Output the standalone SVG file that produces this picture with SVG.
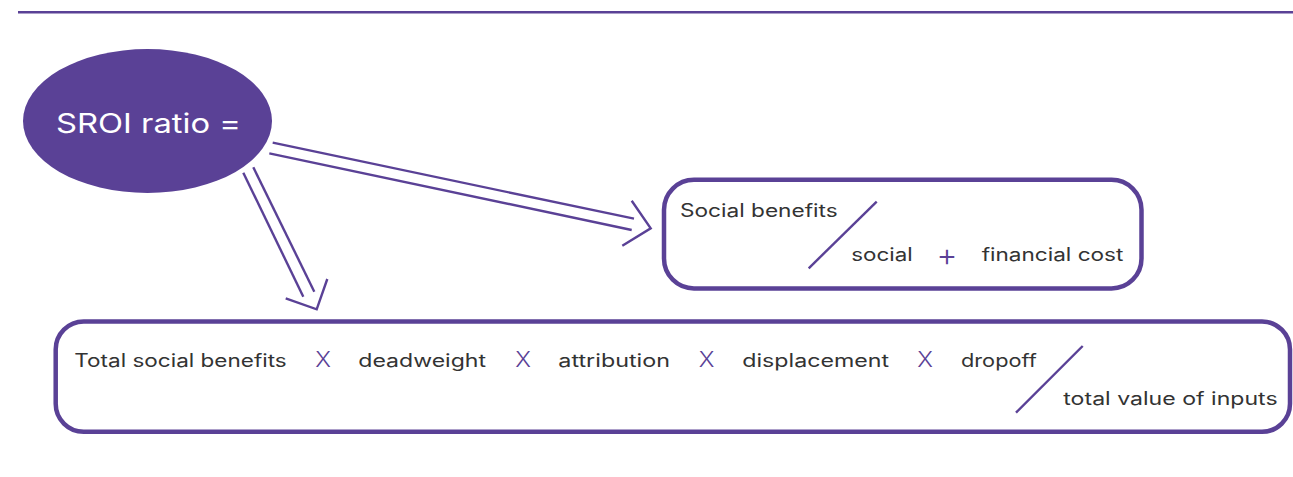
<svg xmlns="http://www.w3.org/2000/svg" width="1293" height="477" viewBox="0 0 1293 477">
<style>
.t{font-family:Inter,"Liberation Sans",sans-serif;font-size:18px;fill:#333333}
.op{font-family:Inter,"Liberation Sans",sans-serif;font-weight:300;fill:#5a4196}
.ln{stroke:#5a4196;stroke-width:2.4;fill:none;stroke-linecap:butt;stroke-linejoin:miter}
.box{fill:#ffffff;stroke:#5a4196;stroke-width:4.5}
</style>
<rect width="1293" height="477" fill="#ffffff"/>
<line x1="18" y1="12.2" x2="1293" y2="12.2" stroke="#5a4196" stroke-width="2.4"/>
<g id="connectors">
  <line class="ln" x1="272.7" y1="142.7" x2="634" y2="218.7"/>
  <line class="ln" x1="269.3" y1="153.3" x2="631.7" y2="230"/>
  <polyline class="ln" points="631.7,200.7 650.7,228.3 622.3,245.7"/>
  <line class="ln" x1="243.3" y1="172.7" x2="303.3" y2="296.7"/>
  <line class="ln" x1="253.3" y1="167.3" x2="314.3" y2="291.7"/>
  <polyline class="ln" points="285.7,298.3 316.7,309.3 327.3,279"/>
</g>
<g id="sroi">
  <ellipse cx="147.5" cy="121" rx="124.5" ry="72" fill="#5a4196"/>
  <text x="56" y="132.7" textLength="185" lengthAdjust="spacingAndGlyphs" font-family="Inter,'Liberation Sans',sans-serif" font-size="27" fill="#ffffff">SROI ratio =</text>
</g>
<g id="simple">
  <rect class="box" x="664" y="179.8" width="477.5" height="108.7" rx="30" ry="30"/>
  <text class="t" x="680" y="216.7" textLength="157.7" lengthAdjust="spacingAndGlyphs">Social benefits</text>
  <line class="ln" x1="876.7" y1="201.7" x2="808.7" y2="268.3" stroke-width="2"/>
  <text class="t" x="851.3" y="260.7" textLength="61.3" lengthAdjust="spacingAndGlyphs">social</text>
  <text class="op" x="947" y="265.8" font-size="32" text-anchor="middle">+</text>
  <text class="t" x="981.7" y="260.7" textLength="141.7" lengthAdjust="spacingAndGlyphs">financial cost</text>
</g>
<g id="full">
  <rect class="box" x="55.7" y="321.5" width="1234.3" height="110.3" rx="28" ry="28"/>
  <text class="t" x="74.3" y="366.7" textLength="212.4" lengthAdjust="spacingAndGlyphs">Total social benefits</text>
  <text class="op" x="315.2" y="367.3" font-size="21" textLength="15.7" lengthAdjust="spacingAndGlyphs">X</text>
  <text class="t" x="358.3" y="366.7" textLength="127.7" lengthAdjust="spacingAndGlyphs">deadweight</text>
  <text class="op" x="515.2" y="367.3" font-size="21" textLength="15.7" lengthAdjust="spacingAndGlyphs">X</text>
  <text class="t" x="558.3" y="366.7" textLength="111.7" lengthAdjust="spacingAndGlyphs">attribution</text>
  <text class="op" x="698.7" y="367.3" font-size="21" textLength="15.7" lengthAdjust="spacingAndGlyphs">X</text>
  <text class="t" x="742.3" y="366.7" textLength="146.7" lengthAdjust="spacingAndGlyphs">displacement</text>
  <text class="op" x="917.2" y="367.3" font-size="21" textLength="15.7" lengthAdjust="spacingAndGlyphs">X</text>
  <text class="t" x="961" y="366.7" textLength="75.7" lengthAdjust="spacingAndGlyphs">dropoff</text>
  <line class="ln" x1="1082.7" y1="346" x2="1016" y2="412.7" stroke-width="2"/>
  <text class="t" x="1063.3" y="405" textLength="214.3" lengthAdjust="spacingAndGlyphs">total value of inputs</text>
</g>
</svg>
